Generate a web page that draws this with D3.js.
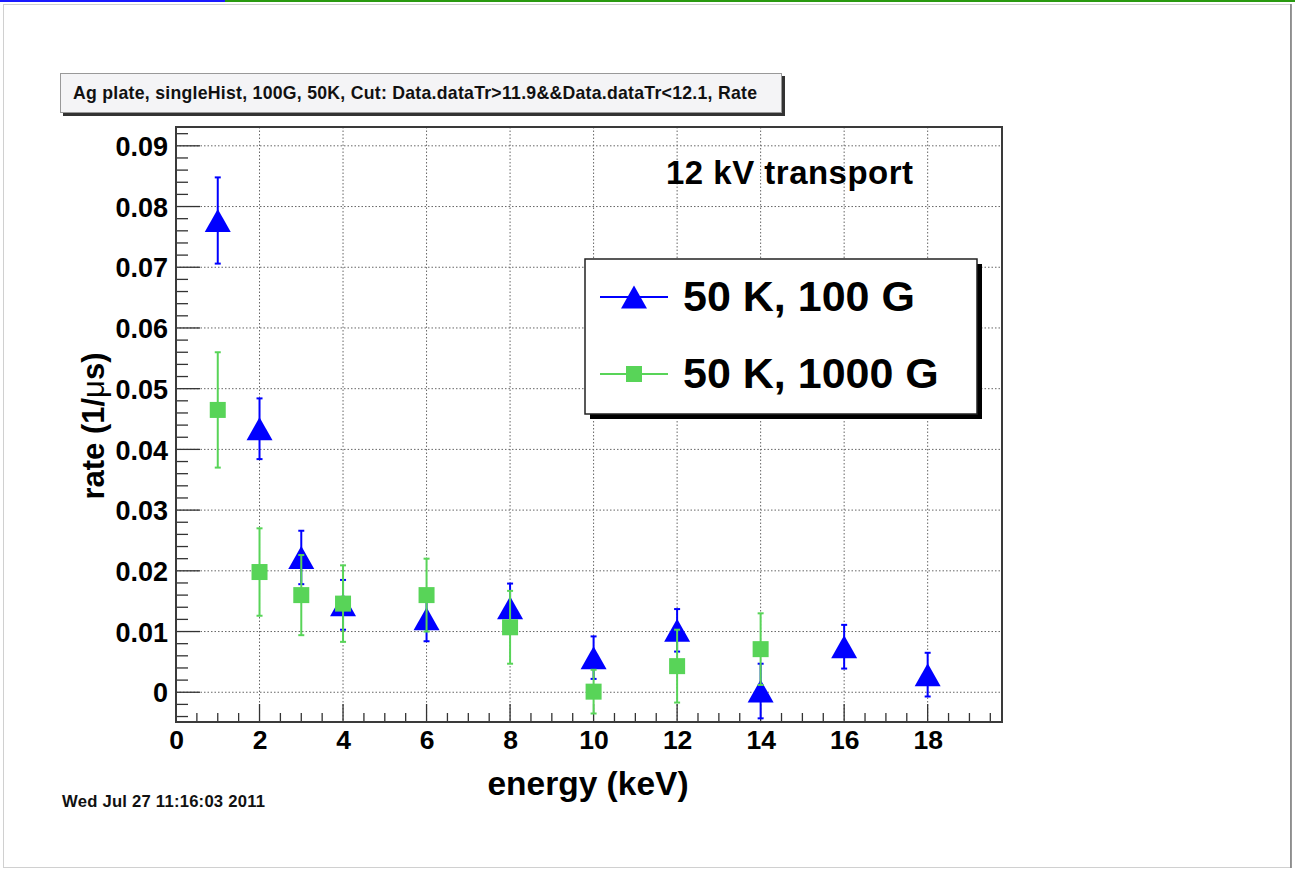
<!DOCTYPE html>
<html><head><meta charset="utf-8">
<script src="https://cdn.jsdelivr.net/npm/d3@7"></script>
<style>body{margin:0;background:#fff}svg{display:block}</style>
</head><body>
<svg id="c" width="1295" height="871"></svg>
<script>
// ---- data ----
const energy100 = [1, 2, 3, 4, 6, 8, 10, 12, 14, 16, 18];
const rate100   = [0.0777, 0.0434, 0.0222, 0.0144, 0.0121, 0.0139, 0.0057, 0.0102, 0.0002, 0.0075, 0.0029];
const err100    = [0.0071, 0.0050, 0.0044, 0.0041, 0.0037, 0.0040, 0.0035, 0.0035, 0.0045, 0.0036, 0.0036];

const energy1000 = [1, 2, 3, 4, 6, 8, 10, 12, 14];
const rate1000   = [0.0465, 0.0198, 0.0160, 0.0146, 0.0160, 0.0107, 0.0001, 0.0043, 0.0071];
const err1000    = [0.0095, 0.0072, 0.0066, 0.0063, 0.0060, 0.0060, 0.0036, 0.0060, 0.0059];

const xTicks = [0, 2, 4, 6, 8, 10, 12, 14, 16, 18];
const xTickLabels = ["0", "2", "4", "6", "8", "10", "12", "14", "16", "18"];
const yTicks = [0, 0.01, 0.02, 0.03, 0.04, 0.05, 0.06, 0.07, 0.08, 0.09];
const yTickLabels = ["0", "0.01", "0.02", "0.03", "0.04", "0.05", "0.06", "0.07", "0.08", "0.09"];
const seriesNames = ["50 K, 100 G", "50 K, 1000 G"];
const titleText = "Ag plate, singleHist, 100G, 50K, Cut: Data.dataTr>11.9&&Data.dataTr<12.1, Rate";
const dateText = "Wed Jul 27 11:16:03 2011";
const noteText = "12 kV transport";

// ---- layout ----
const F = {l: 176, r: 1002, t: 127, b: 722};
const FONT = "'Liberation Sans', Arial, Helvetica, sans-serif";
const BLUE = "#0000ff", GREEN = "#58d458";
const svg = d3.select("#c");
const x = d3.scaleLinear().domain([0, 19.78]).range([F.l, F.r]);
const y = d3.scaleLinear().domain([-0.0049, 0.0931]).range([F.b, F.t]);

// page decoration
svg.append("rect").attr("x", 0).attr("y", 0).attr("width", 225).attr("height", 2).attr("fill", "#1a1aff");
svg.append("rect").attr("x", 225).attr("y", 0).attr("width", 1070).attr("height", 2).attr("fill", "#2a9a10");
svg.append("rect").attr("x", 3.5).attr("y", 4.5).attr("width", 1287).attr("height", 863)
  .attr("fill", "none").attr("stroke", "#d0d0d0");
svg.append("line").attr("x1", 1291).attr("x2", 1291).attr("y1", 4).attr("y2", 868).attr("stroke", "#777").attr("stroke-width", 1.5);

// scale font so text reaches target width, then trim remainder with spacing
function fitSize(t, w, keep) {
  const fs = +t.attr("font-size");
  const nat = t.node().getComputedTextLength();
  const ns = fs + (fs * w / nat - fs) * (keep === undefined ? 1 : keep);
  t.attr("font-size", ns);
  t.attr("textLength", w).attr("lengthAdjust", "spacing");
  return t;
}

// title box
svg.append("rect").attr("x", 63).attr("y", 76).attr("width", 722).attr("height", 40).attr("fill", "#333");
svg.append("rect").attr("x", 60.5).attr("y", 73.5).attr("width", 721).attr("height", 39)
  .attr("fill", "#f4f4f6").attr("stroke", "#999");
fitSize(svg.append("text").attr("x", 73).attr("y", 99).attr("font-family", FONT).attr("font-weight", "bold")
  .attr("font-size", 15.5).attr("fill", "#111").text(titleText), 684, 0.8);

// frame background
svg.append("rect").attr("x", F.l).attr("y", F.t).attr("width", F.r - F.l).attr("height", F.b - F.t).attr("fill", "#fff");

// grid
const g = svg.append("g");
g.selectAll("line.gx").data(xTicks.filter(d => d > 0)).join("line")
  .attr("x1", d => x(d)).attr("x2", d => x(d)).attr("y1", F.t).attr("y2", F.b)
  .attr("stroke", "#666").attr("stroke-width", 1).attr("stroke-dasharray", "1.5,2");
g.selectAll("line.gy").data(yTicks).join("line")
  .attr("x1", F.l).attr("x2", F.r).attr("y1", d => y(d)).attr("y2", d => y(d))
  .attr("stroke", "#666").attr("stroke-width", 1).attr("stroke-dasharray", "1.5,2");

// minor ticks
const xMinor = d3.range(0, 19.78, 0.5);
svg.selectAll("line.xm").data(xMinor).join("line")
  .attr("x1", d => x(d)).attr("x2", d => x(d))
  .attr("y1", F.b).attr("y2", d => F.b - (Math.abs(d / 2 - Math.round(d / 2)) < 1e-6 ? 18 : 9))
  .attr("stroke", "#333").attr("stroke-width", 1.3);
const yMinor = d3.range(-0.004, 0.093, 0.002);
svg.selectAll("line.ym").data(yMinor).join("line")
  .attr("y1", d => y(d)).attr("y2", d => y(d))
  .attr("x1", F.l).attr("x2", d => F.l + (Math.abs(d * 100 - Math.round(d * 100)) < 1e-6 ? 24 : 12))
  .attr("stroke", "#333").attr("stroke-width", 1.3);

// frame
svg.append("rect").attr("x", F.l).attr("y", F.t).attr("width", F.r - F.l).attr("height", F.b - F.t)
  .attr("fill", "none").attr("stroke", "#3a3a3a").attr("stroke-width", 2);

// axes labels via d3 axes (tick text only)
const xAxis = svg.append("g").attr("transform", `translate(0,${F.b})`)
  .call(d3.axisBottom(x).tickValues(xTicks).tickSize(0).tickPadding(8).tickFormat((d, i) => xTickLabels[i]));
xAxis.select(".domain").remove();
xAxis.selectAll("text").attr("font-family", FONT).attr("font-weight", "bold").attr("font-size", 26.5).attr("fill", "#000").attr("dy", "0.71em");
const yAxis = svg.append("g").attr("transform", `translate(${F.l},0)`)
  .call(d3.axisLeft(y).tickValues(yTicks).tickSize(0).tickPadding(8).tickFormat((d, i) => yTickLabels[i]));
yAxis.select(".domain").remove();
yAxis.selectAll("text").attr("font-family", FONT).attr("font-weight", "bold").attr("font-size", 27).attr("fill", "#000").attr("dy", "0.36em");

// axis titles
svg.append("text").attr("x", 588).attr("y", 795).attr("text-anchor", "middle")
  .attr("font-family", FONT).attr("font-weight", "bold").attr("font-size", 33.5).attr("fill", "#000")
  .text("energy (keV)");
const yl = svg.append("text").attr("transform", "translate(104,426) rotate(-90)").attr("text-anchor", "middle")
  .attr("font-family", FONT).attr("font-weight", "bold").attr("font-size", 31).attr("fill", "#000");
yl.append("tspan").text("rate (1/");
yl.append("tspan").attr("font-weight", "normal").text("μ");
yl.append("tspan").text("s)");

// note
fitSize(svg.append("text").attr("x", 666).attr("y", 184).attr("font-family", FONT).attr("font-weight", "bold")
  .attr("font-size", 29).attr("fill", "#000").text(noteText), 247, 0.8);

// markers
function tri(cx, cy) {
  const w = 13, h = 11.5;
  return `M${cx},${cy - h}L${cx + w},${cy + h}L${cx - w},${cy + h}Z`;
}
function drawSeries(ex, rv, ev, color, kind) {
  const gs = svg.append("g");
  const data = ex.map((e, i) => ({e, r: rv[i], s: ev[i]}));
  gs.selectAll("line.eb").data(data).join("line")
    .attr("x1", d => x(d.e)).attr("x2", d => x(d.e)).attr("y1", d => y(d.r + d.s)).attr("y2", d => y(d.r - d.s))
    .attr("stroke", color).attr("stroke-width", 2);
  ["+", "-"].forEach(sg => {
    gs.selectAll("line.cap" + (sg === "+" ? "t" : "b")).data(data).join("line")
      .attr("x1", d => x(d.e) - 3).attr("x2", d => x(d.e) + 3)
      .attr("y1", d => y(sg === "+" ? d.r + d.s : d.r - d.s)).attr("y2", d => y(sg === "+" ? d.r + d.s : d.r - d.s))
      .attr("stroke", color).attr("stroke-width", 2);
  });
  if (kind === "tri") {
    gs.selectAll("path").data(data).join("path").attr("d", d => tri(x(d.e), y(d.r))).attr("fill", color);
  } else {
    gs.selectAll("rect").data(data).join("rect")
      .attr("x", d => x(d.e) - 8).attr("y", d => y(d.r) - 8).attr("width", 16).attr("height", 16).attr("fill", color);
  }
}
drawSeries(energy100, rate100, err100, BLUE, "tri");
drawSeries(energy1000, rate1000, err1000, GREEN, "sq");

// legend
svg.append("rect").attr("x", 590).attr("y", 264).attr("width", 392).attr("height", 155).attr("fill", "#000");
svg.append("rect").attr("x", 585).attr("y", 259).attr("width", 392).attr("height", 155)
  .attr("fill", "#fff").attr("stroke", "#222").attr("stroke-width", 1.5);
const legY = [297, 374];
const legColors = [BLUE, GREEN];
legY.forEach((ly, i) => {
  svg.append("line").attr("x1", 600).attr("x2", 668).attr("y1", ly).attr("y2", ly).attr("stroke", legColors[i]).attr("stroke-width", 2);
  if (i === 0) svg.append("path").attr("d", tri(634, ly)).attr("fill", BLUE);
  else svg.append("rect").attr("x", 626).attr("y", ly - 8).attr("width", 16).attr("height", 16).attr("fill", GREEN);
  svg.append("text").attr("x", 683).attr("y", ly + 14).attr("font-family", FONT).attr("font-weight", "bold")
    .attr("font-size", 43).attr("fill", "#000").text(seriesNames[i]);
});

// date
fitSize(svg.append("text").attr("x", 62).attr("y", 807).attr("font-family", FONT).attr("font-weight", "bold")
  .attr("font-size", 15).attr("fill", "#111").text(dateText), 203, 0.8);
</script>
</body></html>
